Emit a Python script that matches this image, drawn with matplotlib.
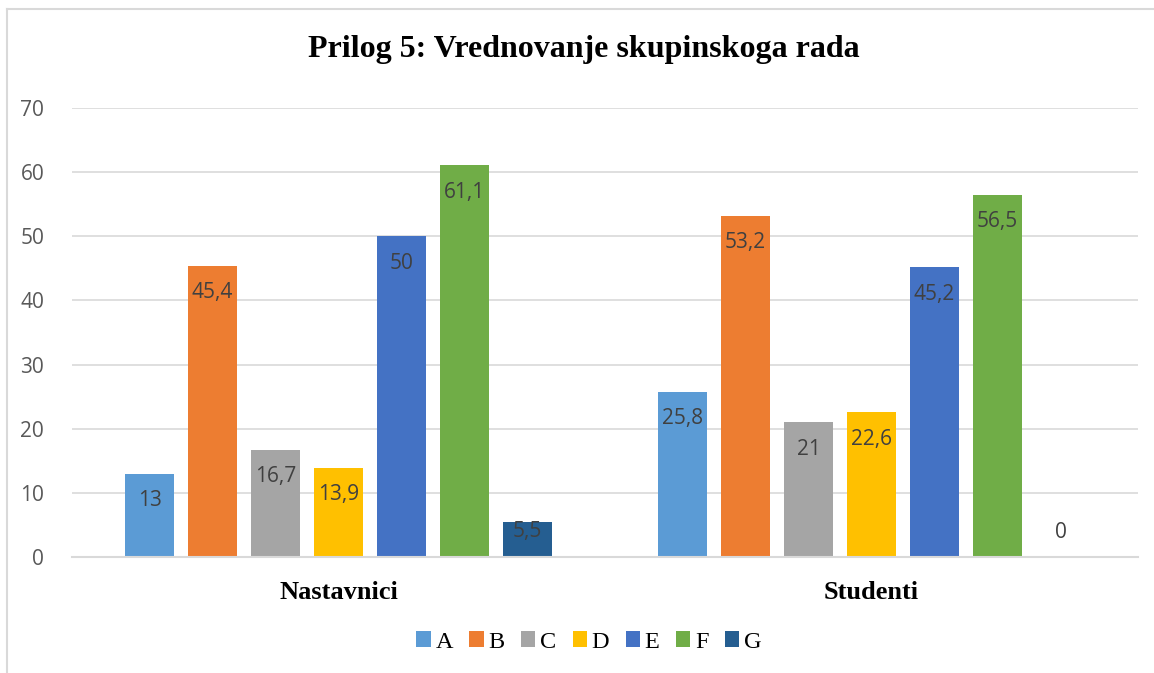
import matplotlib
matplotlib.use("Agg")
import matplotlib.pyplot as plt
from matplotlib.lines import Line2D
from matplotlib.patches import Patch
import numpy as np

categories = ["Nastavnici", "Studenti"]
series_names = ["A", "B", "C", "D", "E", "F", "G"]
values = {
    "A": [13, 25.8],
    "B": [45.4, 53.2],
    "C": [16.7, 21],
    "D": [13.9, 22.6],
    "E": [50, 45.2],
    "F": [61.1, 56.5],
    "G": [5.5, 0],
}
colors = ["#5B9BD5", "#ED7D31", "#A5A5A5", "#FFC000", "#4472C4", "#70AD47", "#255E91"]
title = "Prilog 5: Vrednovanje skupinskoga rada"
yticks = [0, 10, 20, 30, 40, 50, 60, 70]

W, H = 1154, 673
fig = plt.figure(figsize=(W / 100, H / 100), dpi=100)
ax = fig.add_axes([72 / W, (H - 557) / H, (1138 - 72) / W, (557 - 108) / H])

slot = 63 / 533
bw = 49 / 533
x = np.arange(len(categories))
n = len(series_names)

def fmt(v):
    return ("%g" % v).replace(".", ",")

px_per_unit = (557 - 108) / 70.0
for i, name in enumerate(series_names):
    xs = x + (i - (n - 1) / 2) * slot
    vals = values[name]
    ax.bar(xs, vals, width=bw, color=colors[i], zorder=2)
    for xx, v in zip(xs, vals):
        hpx = v * px_per_unit
        if hpx < 40:
            off_px = 25 - hpx
        else:
            off_px = -27
        ax.annotate(fmt(v), (xx, v), xytext=(0, off_px * 72 / 100), textcoords="offset points",
                    ha="center", va="center", fontsize=15, color="#404040",
                    family="Open Sans", zorder=3)

ax.set_xlim(-0.5, 1.5)
ax.set_ylim(0, 70)
ax.set_yticks(yticks)
ax.set_yticklabels([str(t) for t in yticks], fontsize=15, color="#595959", family="Open Sans")
ax.yaxis.grid(True, color="#D9D9D9", linewidth=1.2, zorder=0)
ax.tick_params(axis="y", length=0, pad=20)
ax.set_xticks(x)
ax.set_xticklabels(categories, fontsize=19, fontweight="bold", family="Liberation Serif", color="black")
ax.tick_params(axis="x", length=0, pad=17)
for s in ["top", "right", "left"]:
    ax.spines[s].set_visible(False)
ax.spines["bottom"].set_color("#D9D9D9")
ax.spines["bottom"].set_linewidth(1.5)

fig.text(584 / W, 1 - 50 / H, title, ha="center", va="center", fontsize=23,
         fontweight="bold", family="Liberation Serif")

handles = [Patch(facecolor=c, edgecolor="none") for c in colors]
leg = fig.legend(handles, series_names, loc="center", bbox_to_anchor=(589 / W, 1 - 642 / H),
                 ncol=7, frameon=False, prop={"family": "Liberation Serif", "size": 17.5},
                 handlelength=0.58, handleheight=0.58, handletextpad=0.2, columnspacing=0.68)

fig.add_artist(Line2D([7 / W, 7 / W], [0, 1 - 9 / H], color="#D9D9D9", lw=1.5, transform=fig.transFigure))
fig.add_artist(Line2D([7 / W, 1], [1 - 9 / H, 1 - 9 / H], color="#D9D9D9", lw=1.5, transform=fig.transFigure))

fig.savefig("out.png", dpi=100)
